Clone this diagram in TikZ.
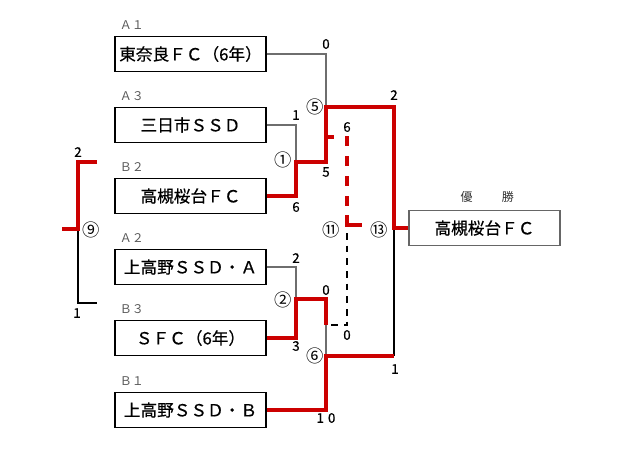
\documentclass[tikz,border=0pt]{standalone}
\usepackage{fontspec}
\setmainfont{Noto Sans CJK JP}
\newfontfamily\teamfont[FakeBold=0.6]{Noto Sans CJK JP}
\newfontfamily\scorefont[FakeBold=0.4]{Noto Sans CJK JP}
\usetikzlibrary{positioning}
\definecolor{winred}{RGB}{204,0,0}
\definecolor{losegray}{RGB}{110,110,110}
\tikzset{
  team/.style={draw, line width=1pt, minimum width=113.25pt, minimum height=26.25pt,
    inner sep=0pt, font=\teamfont\fontsize{12.5}{12.5}\selectfont},
  seed/.style={inner sep=0pt, text=black!65, font=\fontsize{9}{9}\selectfont},
  score/.style={inner sep=0pt, font=\scorefont\fontsize{10}{10}\selectfont},
  mno/.style={inner sep=0pt, font=\fontsize{13}{13}\selectfont},
  win/.style={winred, line width=2.6pt},
  lose/.style={losegray, line width=0.8pt},
}

\begin{document}
\begin{tikzpicture}[x=0.75pt,y=-0.75pt]
  \useasboundingbox (0,0) rectangle (625,455);
  % teams
  \node[team] (t1) at (190.5,54) {東奈良ＦＣ（6年）};
  \node[team] (t2) at (190.5,125) {三日市ＳＳＤ};
  \node[team] (t3) at (190.5,196) {高槻桜台ＦＣ};
  \node[team] (t4) at (190.5,267) {上高野ＳＳＤ・Ａ};
  \node[team] (t5) at (190.5,338) {ＳＦＣ（6年）};
  \node[team] (t6) at (190.5,410) {上高野ＳＳＤ・Ｂ};
  \node[team, draw=black!60, line width=1.2pt] (champ) at (484.5,228) {高槻桜台ＦＣ};
  \node[seed, above right=4.5pt and 4pt of t1.north west] (a1) {Ａ１};
  \node[seed, above right=4.5pt and 4pt of t2.north west] (a3) {Ａ３};
  \node[seed, above right=4.5pt and 4pt of t3.north west] (b2) {Ｂ２};
  \node[seed, above right=4.5pt and 4pt of t4.north west] (a2) {Ａ２};
  \node[seed, above right=4.5pt and 4pt of t5.north west] (b3) {Ｂ３};
  \node[seed, above right=4.5pt and 4pt of t6.north west] (b1) {Ｂ１};
  \node[seed, text=black!80, above=5pt of champ, xshift=2pt] (yusho) {優\hspace{22pt}勝};

  % match points
  \coordinate (m1) at (296,162);
  \coordinate (m2) at (296,299);
  \coordinate (m5) at (326,107);
  \coordinate (m6) at (326,356);
  \coordinate (m13) at (394,228);
  \coordinate (d0) at (326,325);
  \coordinate (m9) at (78,229);
  \coordinate (f9t) at (97,162);
  \coordinate (f9b) at (97,303);
  \coordinate (f9o) at (62,229);

  % first rounds
  \draw[lose] (t1.east) -| (m5);
  \draw[lose] (t2.east) -| (m1);
  \draw[lose] (t4.east) -| (m2);
  \draw[lose] (d0) -- (m6);
  \draw[black, line width=0.8pt] (m6 -| m13) -- (m13);
  \draw[win] (t3.east) -| (m1) -- (m1 -| m5) -- (m5) -- (m5 -| m13) -- (m13) -- (champ.west);
  \draw[win] (t5.east) -| (m2) -- (m2 -| m6) -- (d0);
  \draw[win] (t6.east) -| (m6) -- (m6 -| m13);
  % match 11 (dashed)
  \draw[win] (326,137) -- (334,137);
  \draw[win, dash pattern=on 7.5pt off 7.5pt] (347,136) -- (347,208);
  \draw[win] (347,215) -- (347,225) -- (362,225);
  \draw[black, line width=0.8pt, dash pattern=on 5pt off 4.5pt] (347,233) -- (347,325) -- (d0);
  % match 9
  \draw[black, line width=0.8pt] (m9) |- (f9b);
  \draw[win] (f9t) -| (m9) -- (f9o);

  % match numbers
  \node[mno] (c1) at (283,160) {①};
  \node[mno] (c2) at (283,300) {②};
  \node[mno] (c5) at (315,107) {⑤};
  \node[mno] (c6) at (315,356) {⑥};
  \node[mno] (c9) at (91,230) {⑨};
  \node[mno] (c11) at (331,230) {⑪};
  \node[mno] (c13) at (379,230) {⑬};

  % scores
  \node[score] (s1a) at (296,115) {1};
  \node[score] (s1b) at (296,207) {6};
  \node[score] (s5a) at (326,44) {0};
  \node[score] (s5b) at (326,172) {5};
  \node[score] (s13a) at (394,95) {2};
  \node[score] (s13b) at (395,369) {1};
  \node[score] (s11a) at (347,127) {6};
  \node[score] (s11b) at (347,335) {0};
  \node[score] (s2a) at (296,258) {2};
  \node[score] (s2b) at (296,346) {3};
  \node[score] (s6a) at (326,290) {0};
  \node[score] (s6b) at (326,418) {1\hspace{3pt}0};
  \node[score] (s9a) at (78,152) {2};
  \node[score] (s9b) at (77,313) {1};
\end{tikzpicture}
\end{document}
